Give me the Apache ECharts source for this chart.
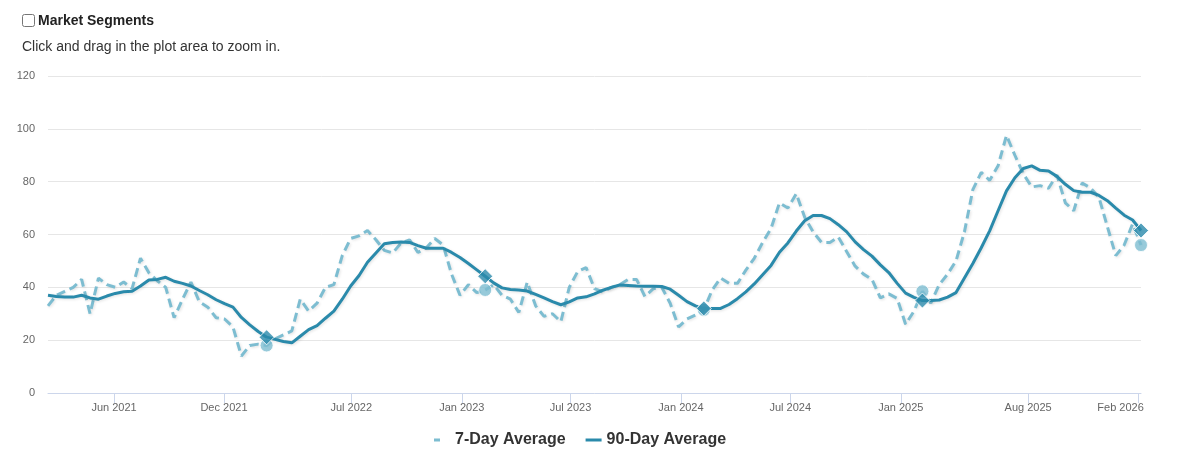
<!DOCTYPE html>
<html>
<head>
<meta charset="utf-8">
<script src="https://cdn.jsdelivr.net/npm/echarts@6.0.0/dist/echarts.min.js"></script>
<style>
  html, body { margin: 0; padding: 0; background: #fff; }
  body { width: 1180px; height: 464px; position: relative; overflow: hidden;
         font-family: "Liberation Sans", Arial, sans-serif; color: #333; }
  #chart { position: absolute; left: 0; top: 0; width: 1180px; height: 464px; }
  #hdr { position: absolute; left: 20px; top: 12px; font-size: 14px; font-weight: bold; color: #222;
         display: flex; align-items: center; z-index: 2; }
  #hdr input { margin: 0 3px 0 2px; width: 13px; height: 13px; }
  #sub { position: absolute; left: 22px; top: 38px; font-size: 14px; color: #333; z-index: 2; }
</style>
</head>
<body>
<div id="hdr"><input type="checkbox"><span>Market Segments</span></div>
<div id="sub">Click and drag in the plot area to zoom in.</div>
<div id="chart"></div>
<script>
// ---- data (sampled every 14 days from start date) ----
const startDate = '2021-02-11';
const stepDays = 14;

const sevenDay = [
  33, 37, 38.5, 40, 43, 30, 43.5, 41, 40, 42,
  39.5, 51, 45.5, 42.5, 40, 28.5, 35.5, 42, 34.5, 32.5,
  28.5, 28, 25, 14, 18, 18.5, 18, 20.5, 22, 23.5,
  35.5, 31, 34, 40, 41, 52, 58.5, 59.5, 61.5, 58,
  54, 53, 56.8, 58, 53.2, 55, 58.5, 56, 45, 37,
  41, 38, 39, 41, 37, 35.5, 30.5, 42, 33, 29,
  30, 27, 40, 46, 47.5, 39.5, 38.3, 40, 41, 43,
  43, 36.5, 39.5, 40, 34, 25, 28, 29.5, 31.5, 39,
  43.5, 41.5, 41.5, 46.5, 51, 57, 62.3, 72, 70, 75.5,
  66.5, 61, 57, 57, 59, 53.5, 48, 45, 43, 36,
  37.5, 35.8, 26, 31, 38.5, 34, 41, 45, 50, 61,
  77, 83.5, 80.5, 86, 97.5, 90, 83, 78, 78.5, 77.5,
  82.5, 72, 69, 79.5, 77.6, 74, 63, 52, 56, 64,
  56
];

const ninetyDay = [
  37, 36.5, 36.3, 36.3, 37, 36, 35.5, 36.7, 37.7, 38.3,
  38.5, 40.5, 42.8, 43, 43.8, 42.3, 41.5, 40.5, 38.8, 37.2,
  35.3, 33.8, 32.5, 28.6, 25.8, 23.3, 21.1, 20.3, 19.5, 19,
  21.5, 24, 25.5, 28.3, 31, 35.5, 40.5, 44.5, 49.5, 53,
  56.5, 57, 57.2, 57, 55.8, 54.8, 54.8, 54.8, 53.2, 51.3,
  49, 46.6, 44.2, 41.7, 39.8, 39.2, 39, 38.6, 37.3, 36,
  34.6, 33.4, 34.5, 36, 36.4, 37.5, 38.9, 40, 40.9, 40.7,
  40.5, 40.4, 40.4, 40.3, 39.3, 37, 34.6, 33, 32, 32,
  32, 33.5, 35.7, 38.3, 41.3, 44.8, 48.3, 53.3, 56.8, 61.3,
  65.2, 67.2, 67.2, 66, 63.7, 61, 57.2, 54.3, 51.8, 48.5,
  45.6, 41.5, 37.8, 36.2, 35, 35, 35.2, 36.3, 38, 43.5,
  49, 55, 61.4, 69, 76.5, 81.5, 85, 86, 84.3, 84,
  82, 79, 76.6, 76, 76, 74.8, 72.8, 70, 67.3, 65.5,
  61.5
];

// yearly highlighted points (index into the arrays above)
const markerIdx = [26, 52, 78, 104, 130];

// x-axis tick labels
const tickDates = ['2021-06-01', '2021-12-01', '2022-07-01', '2023-01-01', '2023-07-01',
                   '2024-01-01', '2024-07-01', '2025-01-01', '2025-08-01', '2026-02-01'];
const tickLabels = ['Jun 2021', 'Dec 2021', 'Jul 2022', 'Jan 2023', 'Jul 2023',
                    'Jan 2024', 'Jul 2024', 'Jan 2025', 'Aug 2025', 'Feb 2026'];

// ---- build ----
const DAY = 86400000;
const t0 = Date.parse(startDate + 'T00:00:00Z');
const times = sevenDay.map((_, i) => t0 + i * stepDays * DAY);
const tickTimes = tickDates.map(d => Date.parse(d + 'T00:00:00Z'));
const lastTick = tickTimes[tickTimes.length - 1];
function labelFor(v) {
  let best = 0, bd = Infinity;
  tickTimes.forEach((t, i) => { const d = Math.abs(t - v); if (d < bd) { bd = d; best = i; } });
  return bd < 5 * DAY ? tickLabels[best] : '';
}

const C7 = '#7dbdd1';
const C90 = '#2a8aab';
const FONT = '"Liberation Sans", Arial, sans-serif';

const chart = echarts.init(document.getElementById('chart'), null, { renderer: 'canvas' });
chart.setOption({
  animation: false,
  textStyle: { fontFamily: FONT },
  grid: { left: 48, right: 39, top: 76, bottom: 71 },
  legend: {
    top: 427,
    left: 429,
    itemWidth: 16,
    itemHeight: 3,
    itemGap: 20,
    textStyle: { fontSize: 16, fontWeight: 'bold', color: '#333', fontFamily: FONT },
    data: [
      { name: '7-Day Average', icon: 'path://M0,0h6v3h-6zM15.99,0h0.01v3h-0.01z', itemStyle: { color: C7 } },
      { name: '90-Day Average', icon: 'rect', itemStyle: { color: C90 } }
    ]
  },
  xAxis: {
    type: 'value',
    min: times[0],
    max: times[times.length - 1],
    axisLine: { lineStyle: { color: '#ccd6eb', width: 1 } },
    axisTick: { show: true, customValues: tickTimes, length: 10, lineStyle: { color: '#ccd6eb' } },
    axisLabel: {
      customValues: tickTimes,
      color: '#666',
      fontSize: 11,
      fontFamily: FONT,
      margin: 9,
      formatter: function (v) {
        const s = labelFor(v);
        return Math.abs(v - lastTick) < DAY ? '{r|' + s + '}' : s;
      },
      rich: { r: { color: '#666', fontSize: 11, fontFamily: FONT, padding: [0, 36, 0, 0] } }
    },
    splitLine: { show: false }
  },
  yAxis: {
    type: 'value',
    min: 0, max: 120, interval: 20,
    axisLine: { show: false },
    axisTick: { show: false },
    axisLabel: { color: '#666', fontSize: 11, fontFamily: FONT, margin: 13 },
    splitLine: { lineStyle: { color: '#e6e6e6', width: 1 } }
  },
  series: [
    {
      name: '7-Day Average',
      type: 'line',
      data: times.map((t, i) => [t, sevenDay[i]]),
      symbol: 'none',
      z: 2,
      lineStyle: { color: C7, width: 3, type: [9, 5],
                   shadowColor: 'rgba(0,0,0,0.12)', shadowBlur: 3, shadowOffsetX: 1, shadowOffsetY: 1 },
      itemStyle: { color: C7 }
    },
    {
      name: '90-Day Average',
      type: 'line',
      data: times.map((t, i) => [t, ninetyDay[i]]),
      symbol: 'none',
      z: 3,
      lineStyle: { color: C90, width: 3,
                   shadowColor: 'rgba(0,0,0,0.12)', shadowBlur: 3, shadowOffsetX: 1, shadowOffsetY: 1 },
      itemStyle: { color: C90 }
    },
    {
      name: '7-Day marker',
      type: 'scatter',
      data: markerIdx.map(i => [times[i], sevenDay[i]]),
      symbol: 'circle',
      symbolSize: 13,
      z: 4,
      itemStyle: { color: C7, borderColor: '#fff', borderWidth: 1 }
    },
    {
      name: '90-Day marker',
      type: 'scatter',
      data: markerIdx.map(i => [times[i], ninetyDay[i]]),
      symbol: 'diamond',
      symbolSize: 15,
      z: 5,
      itemStyle: { color: C90, borderColor: '#fff', borderWidth: 1 }
    }
  ]
});
</script>
</body>
</html>
